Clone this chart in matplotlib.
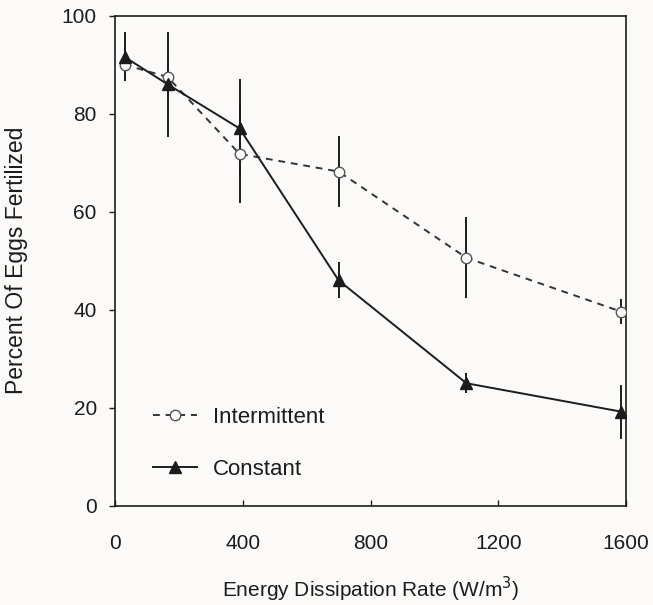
import numpy as np
import matplotlib.pyplot as plt

plt.rcParams['font.family'] = ['Liberation Sans', 'DejaVu Sans']

# energy dissipation rate (W/m^3)
x_int = [30, 165, 390, 700, 1100, 1585]
x_con = [30, 165, 390, 700, 1100, 1585]

# percent of eggs fertilized
y_int = [90.0, 87.5, 71.8, 68.2, 50.6, 39.6]
err_int = [3.0, 3.0, 10.0, 7.3, 8.3, 2.5]

y_con = [91.6, 86.0, 77.0, 46.0, 25.0, 19.2]
err_con = [5.0, 10.7, 10.0, 3.7, 2.0, 5.5]

xticks = [0, 400, 800, 1200, 1600]
yticks = [0, 20, 40, 60, 80, 100]

ink = '#1c1c1c'
bg = '#fcfaf8'

fig = plt.figure(figsize=(6.53, 6.05), dpi=100, facecolor=bg)
ax = fig.add_axes([0.176, 0.164, 0.783, 0.810], facecolor=bg)

ax.errorbar(x_int, y_int, yerr=err_int, fmt='none', ecolor=ink, elinewidth=1.4, capsize=0, zorder=2)
ax.errorbar(x_con, y_con, yerr=err_con, fmt='none', ecolor=ink, elinewidth=1.4, capsize=0, zorder=2)

ax.plot(x_int, y_int, linestyle=(0, (3.5, 3)), color='#333333', linewidth=1.4,
        marker='o', markersize=7.5, markerfacecolor=bg, markeredgecolor='#555555',
        markeredgewidth=1.0, label='Intermittent', zorder=3)
ax.plot(x_con, y_con, linestyle='-', color=ink, linewidth=1.4,
        marker='^', markersize=8.5, markerfacecolor=ink, markeredgecolor=ink,
        label='Constant', zorder=4)

ax.set_xlim(0, 1600)
ax.set_ylim(0, 100)
ax.set_xticks(xticks)
ax.set_yticks(yticks)
ax.tick_params(axis='x', direction='in', length=4, width=1, colors=ink, labelsize=15, pad=20)
ax.tick_params(axis='y', direction='out', length=4, width=1, colors=ink, labelsize=15, pad=9)
for s in ax.spines.values():
    s.set_linewidth(1.2)
    s.set_color(ink)

ax.set_xlabel('Energy Dissipation Rate (W/m$^3$)', fontsize=15, color=ink, labelpad=16)
ax.set_ylabel('Percent Of Eggs Fertilized', fontsize=16.5, color=ink, labelpad=24)

leg = ax.legend(loc='lower left', bbox_to_anchor=(0.035, 0.012), frameon=False,
                fontsize=16, handlelength=2.0, labelspacing=1.4, handletextpad=0.7)
for t in leg.get_texts():
    t.set_color(ink)

fig.savefig('out.png', dpi=100, facecolor=bg)
